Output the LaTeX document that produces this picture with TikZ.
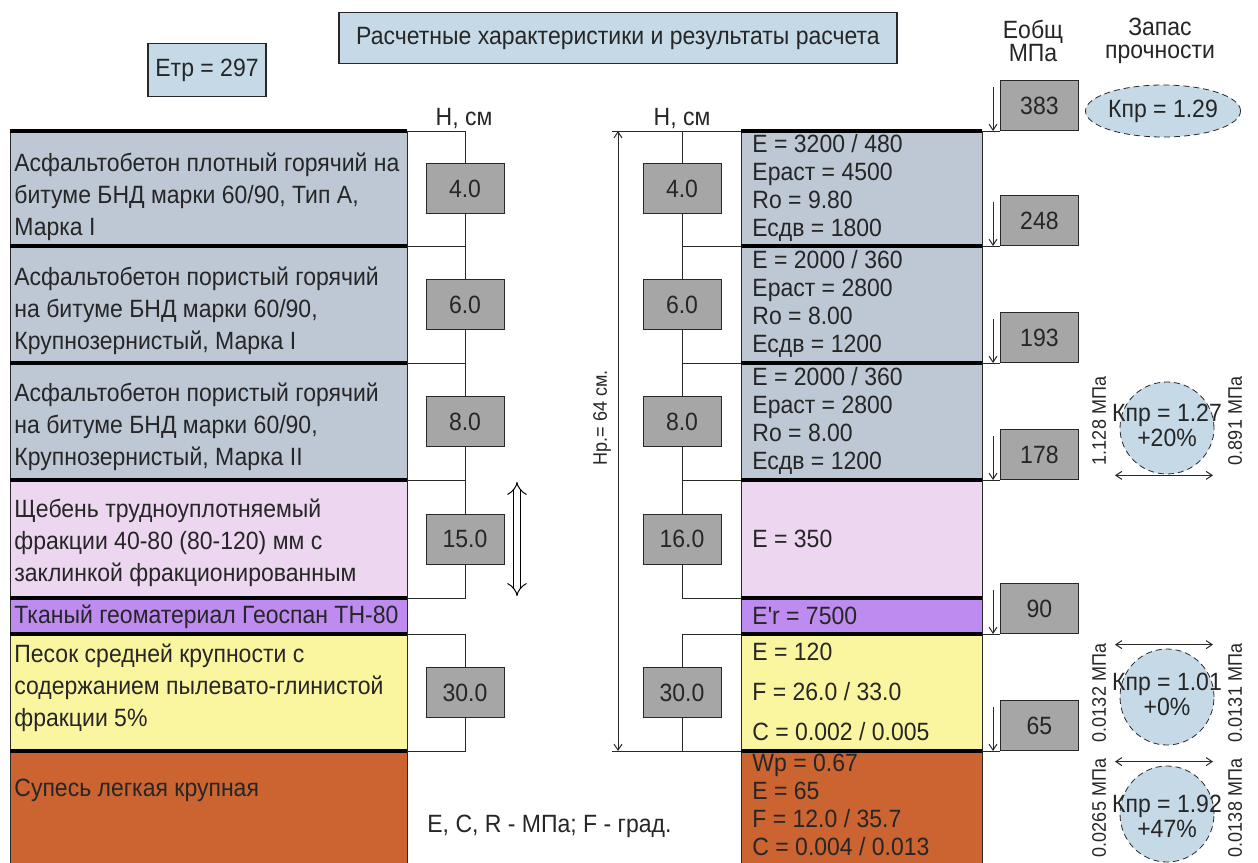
\documentclass[tikz,border=0pt]{standalone}
\usepackage{fontspec}
\setmainfont{Liberation Sans}[Ligatures=TeXOff, FakeStretch=0.92]
\usetikzlibrary{arrows.meta,positioning,shapes.geometric,calc}
\definecolor{hdrblue}{RGB}{198,217,231}
\definecolor{asphgray}{RGB}{189,200,212}
\definecolor{stonepink}{RGB}{236,214,240}
\definecolor{geoviolet}{RGB}{190,140,240}
\definecolor{sandyellow}{RGB}{250,246,160}
\definecolor{soilbrown}{RGB}{204,100,50}
\definecolor{hgray}{RGB}{166,166,166}
\definecolor{inkgray}{RGB}{40,40,40}
\newcommand{\fmain}{\fontsize{12.5}{16}\selectfont}
\newcommand{\fsmall}{\fontsize{9.8}{11}\selectfont}
\tikzset{
  hdr box/.style={
    draw=inkgray,
    fill=hdrblue,
    line width=0.7pt,
    inner sep=0pt,
    font=\fmain
  },
  hbox/.style={
    draw=inkgray,
    fill=hgray,
    minimum width=39pt,
    minimum height=25pt,
    inner sep=0pt,
    font=\fmain
  },
  res box/.style={hbox, anchor=south west},
  kpr/.style={
    ellipse,
    draw=inkgray,
    densely dashed,
    fill=hdrblue,
    inner sep=0pt
  },
  layer text/.style={anchor=west, align=left, font=\fmain, inner sep=0pt},
  rot text/.style={rotate=90, font=\fsmall, inner sep=0pt},
  wire/.style={line width=0.5pt, draw=inkgray},
  boundary/.style={line width=2pt, draw=black},
  dim/.style={wire, {Straight Barb[length=3pt,width=4pt]}-{Straight Barb[length=3pt,width=4pt]}},
  down/.style={wire, -{Straight Barb[length=3pt,width=4pt]}}
}

\begin{document}
\begin{tikzpicture}[x=0.5pt,y=-0.5pt,every node/.append style={text=black!85}]
  \useasboundingbox (0,0) rectangle (1258,862);
  \fill[white] (0,0) rectangle (1258,862);

  % Headers
  \node[hdr box, minimum width=279pt, minimum height=25.5pt] (title) at (618,38) {Расчетные характеристики и результаты расчета};
  \node[hdr box, minimum width=59pt, minimum height=26.5pt] (etr) at (207,70) {Етр = 297};
  \node[font=\fmain] (hleft) at (464,118) {Н, см};
  \node[font=\fmain] (hright) at (682,118) {Н, см};
  \node[font=\fontsize{12.5}{11.5}\selectfont, align=center] (eobsh) at (1033,41) {Еобщ\\МПа};
  \node[font=\fontsize{12.5}{11.5}\selectfont, align=center] (zapas) at (1160,41) {Запас\\прочности};

  % Layers, both columns
  \foreach \ya/\yb/\col in {131/246/asphgray, 246/363/asphgray, 363/480/asphgray,
      480/598/stonepink, 598/634/geoviolet, 634/751/sandyellow, 751/880/soilbrown} {
    \filldraw[wire, fill=\col] (10,\ya) rectangle (407,\yb);
    \filldraw[wire, fill=\col] (741,\ya) rectangle (982,\yb);
    \draw[boundary] (10,\ya) -- (407,\ya);
    \draw[boundary] (741,\ya) -- (982,\ya);
  }

  % Layer names
  \node[layer text] (s1) at (14,197) {Асфальтобетон плотный горячий на\\битуме БНД марки 60/90, Тип А,\\Марка I};
  \node[layer text] (s2) at (14,311) {Асфальтобетон пористый горячий\\на битуме БНД марки 60/90,\\Крупнозернистый, Марка I};
  \node[layer text] (s3) at (14,427) {Асфальтобетон пористый горячий\\на битуме БНД марки 60/90,\\Крупнозернистый, Марка II};
  \node[layer text] (s4) at (14,543) {Щебень трудноуплотняемый\\фракции 40-80 (80-120) мм с\\заклинкой фракционированным};
  \node[layer text] (s5) at (14,617) {Тканый геоматериал Геоспан ТН-80};
  \node[layer text] (s6) at (14,688) {Песок средней крупности с\\содержанием пылевато-глинистой\\фракции 5\%};
  \node[layer text] (s7) at (14,790) {Супесь легкая крупная};
  \node[layer text] (units) at (427,826) {E, C, R - МПа; F - град.};

  % Thickness brackets
  \foreach \n/\ya/\yb/\h/\hh in {1/131/246/4.0/4.0, 2/246/363/6.0/6.0, 3/363/480/8.0/8.0,
      4/480/598/15.0/16.0, 6/634/751/30.0/30.0} {
    \node[hbox] (lh\n) at (465,{(\ya+\yb)/2}) {\h};
    \draw[wire] (407,\ya) -| (lh\n.north);
    \draw[wire] (407,\yb) -| (lh\n.south);
    \node[hbox] (rh\n) at (682,{(\ya+\yb)/2}) {\hh};
    \draw[wire] (741,\ya) -| (rh\n.north);
    \draw[wire] (741,\yb) -| (rh\n.south);
  }
  \coordinate (ctop) at (517,482);
  \coordinate (cbot) at (517,596);
  \draw[line width=0.5pt, double, double distance=3pt, {Implies}-{Implies}] (ctop) -- (cbot);

  % Total thickness
  \coordinate (hptop) at (618,131);
  \coordinate (hpbot) at (618,751);
  \draw[wire] ($(hptop)+(-6,0)$) -- (741,131);
  \draw[wire] ($(hpbot)+(-6,0)$) -- (741,751);
  \draw[dim] (hptop) -- (hpbot);
  \node[rot text] (hp) at (602,418) {Нр.= 64 см.};

  % Layer data
  \node[layer text, font=\fontsize{12.5}{14}\selectfont] (d1) at (752,188) {E = 3200 / 480\\Ераст = 4500\\Ro = 9.80\\Есдв = 1800};
  \node[layer text, font=\fontsize{12.5}{14}\selectfont] (d2) at (752,304) {E = 2000 / 360\\Ераст = 2800\\Ro = 8.00\\Есдв = 1200};
  \node[layer text, font=\fontsize{12.5}{14}\selectfont] (d3) at (752,421) {E = 2000 / 360\\Ераст = 2800\\Ro = 8.00\\Есдв = 1200};
  \node[layer text] (d4) at (752,539) {E = 350};
  \node[layer text] (d5) at (752,616) {E'r = 7500};
  \node[layer text, font=\fontsize{12.5}{20}\selectfont] (d6) at (752,692) {E = 120\\F = 26.0 / 33.0\\C = 0.002 / 0.005};
  \node[layer text, font=\fontsize{12.5}{14}\selectfont] (d7) at (752,805) {Wp = 0.67\\E = 65\\F = 12.0 / 35.7\\C = 0.004 / 0.013};

  % Eобщ on layer tops
  \foreach \v/\yb in {383/131, 248/246, 193/363, 178/480, 90/634, 65/751} {
    \node[res box] (e\v) at (1000,\yb) {\v};
    \coordinate (ea\v) at (993,{\yb-44});
    \coordinate (eb\v) at (993,\yb);
    \draw[wire] (982,\yb) -- (e\v.south west);
    \draw[down] (ea\v) -- (eb\v);
  }

  % Strength margins
  \node[kpr, minimum width=75pt, minimum height=26pt, font=\fmain] (k1) at (1163,111) {Кпр = 1.29};

  \node[kpr, minimum width=47pt, minimum height=46pt] (k2) at (1167,428) {};
  \node[align=center, font=\fontsize{12.5}{12.5}\selectfont] (k2t) at ($(k2)+(0,-3)$) {Кпр = 1.27\\+20\%};
  \draw[dim] ($(k2.south)+(-52,1)$) -- ($(k2.south)+(46,1)$);
  \node[rot text] (k2l) at ($(k2)+(-68,-7)$) {1.128 МПа};
  \node[rot text] (k2r) at ($(k2)+(68,-7)$) {0.891 МПа};

  \node[kpr, minimum width=47pt, minimum height=48pt] (k3) at (1167,697) {};
  \node[align=center, font=\fontsize{12.5}{12.5}\selectfont] (k3t) at ($(k3)+(0,-3)$) {Кпр = 1.01\\+0\%};
  \draw[dim] ($(k3.north)+(-52,-4)$) -- ($(k3.north)+(46,-4)$);
  \node[rot text] (k3l) at ($(k3)+(-68,-4)$) {0.0132 МПа};
  \node[rot text] (k3r) at ($(k3)+(68,-4)$) {0.0131 МПа};

  \node[kpr, minimum width=47pt, minimum height=48pt] (k4) at (1167,814) {};
  \node[align=center, font=\fontsize{12.5}{12.5}\selectfont] (k4t) at ($(k4)+(0,2)$) {Кпр = 1.92\\+47\%};
  \draw[dim] ($(k4.north)+(-52,-4)$) -- ($(k4.north)+(46,-4)$);
  \node[rot text] (k4l) at ($(k4)+(-68,-6)$) {0.0265 МПа};
  \node[rot text] (k4r) at ($(k4)+(68,-6)$) {0.0138 МПа};
\end{tikzpicture}
\end{document}
